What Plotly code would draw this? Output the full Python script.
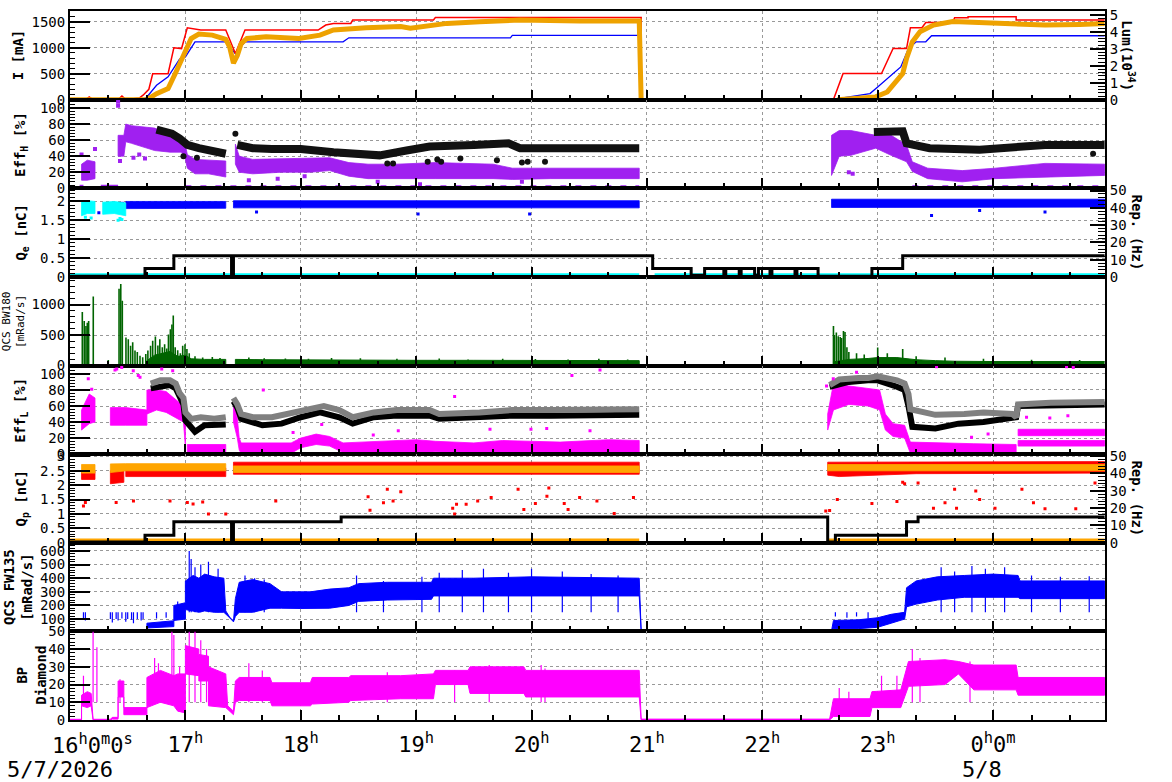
import plotly.graph_objects as go
from plotly.subplots import make_subplots

# ---------------- data (time "HH:MM") ----------------
# Panel 1 : ring currents [mA] and luminosity [1e34]
RED_I = [("16:00",0),("16:08",0),("16:10",50),("16:12",0),("16:25",0),("16:27",70),("16:29",0),
         ("16:36",30),("16:38",85),("16:41",200),("16:43",500),("16:51",500),("16:54",1000),("16:58",985),
         ("17:01",1387),("17:06",1360),("17:08",1342),("17:21",1342),("17:26",890),("17:31",1342),
         ("18:09",1342),("18:13",1439),("18:17",1470),("18:26",1470),("18:27",1536),("19:09",1536),
         ("19:10",1586),("20:57",1586),("20:57",0),("22:37",0),("22:42",503),("23:02",503),("23:08",986),
         ("23:15",986),("23:17",1387),("23:23",1387),("23:25",1489),("23:39",1489),("23:40",1580),
         ("23:47",1580),("23:47",1600),("00:12",1600),("00:12",1536),("00:58",1536)]
BLUE_I = [("16:00",0),("16:08",0),("16:10",15),("16:12",0),("16:38",0),("16:40",52),("16:45",278),
          ("16:51",439),("16:57",781),("17:00",825),("17:05",1116),("17:21",1116),("17:26",887),
          ("17:31",1116),("18:22",1116),("18:25",1193),("19:49",1193),("19:50",1238),("20:57",1238),
          ("20:57",0),("22:36",0),("22:56",116),("23:00",245),("23:12",630),("23:16",983),("23:20",1116),
          ("23:25",1116),("23:28",1232),("00:58",1232)]
LUM = [("16:00",0),("16:40",0),("16:45",0.35),("16:51",0.65),("16:55",1.6),("17:01",3.0),("17:03",3.6),
       ("17:07",3.86),("17:14",3.8),("17:21",3.55),("17:23",3.1),("17:25",2.15),("17:27",2.6),("17:29",3.3),
       ("17:32",3.6),("17:42",3.7),("17:59",3.6),("18:10",3.8),("18:17",4.1),("18:34",4.23),("18:52",4.3),
       ("18:57",4.2),("19:16",4.49),("19:33",4.59),("19:54",4.69),("20:25",4.63),("20:56",4.63),("20:57",0),
       None,("22:39",0),("22:59",0.16),("23:05",0.45),("23:08",0.85),("23:13",1.53),("23:15",2.42),
       ("23:18",3.4),("23:22",4.0),("23:29",4.39),("23:39",4.6),("23:53",4.53),("00:10",4.43),
       ("00:27",4.39),("00:45",4.43),("00:58",4.49)]

# Panel 2 : Eff_H [%]
EFFH_BLACK = [("16:45",73),("16:49",70),("16:53",68),("16:57",62),("17:01",54),("17:07",50),("17:14",47),
              ("17:21",43),None,("17:27",54),("17:35",50),("17:45",49),("18:00",49),("18:17",45),
              ("18:34",41),("18:41",41),("18:55",47),("19:07",52),("19:30",54),("19:48",56),("19:54",50),
              ("20:25",50),("20:56",50),None,("22:58",70),("23:13",71),("23:15",56),("23:27",50),
              ("23:53",48),("00:20",52),("00:27",54),("00:58",54)]
EFFH_BLACK_OUT = [("16:59",40),("17:06",38),("17:26",68),("18:45",31),("18:48",31),("19:06",33),
                  ("19:11",36),("19:13",33),("19:23",37),("19:42",35),("19:55",32),("19:58",33),
                  ("20:07",33),("00:52",43)]
EFFH_PURPLE = [("16:06",10,30),("16:09",10,35),("16:13",12,33),None,
               ("16:25",40,66),("16:28",40,66),("16:29",58,80),("16:32",56,78),("16:44",47,75),
               ("16:52",45,67),("16:58",45,61),("17:00",36,54),("17:01",25,42),("17:05",18,36),
               ("17:12",18,35),("17:21",14,34),None,
               ("17:26",30,55),("17:28",20,40),("17:35",18,36),("17:50",20,37),("18:05",20,38),
               ("18:15",22,38),("18:25",15,32),("18:35",12,30),("18:50",12,30),("19:10",12,32),
               ("19:40",12,30),("19:50",11,25),("20:10",12,25),("20:30",12,25),("20:56",12,25),None,
               ("22:36",16,66),("22:40",40,72),("22:46",41,72),("22:59",50,66),("23:07",41,66),
               ("23:15",33,54),("23:18",21,33),("23:26",12,25),("23:44",8,22),("00:01",12,25),
               ("00:27",14,31),("00:58",16,30)]
EFFH_PURPLE_ZERO = [("16:05",1.8),("16:07",1.8),None,("16:16",1.8),("16:25",1.8)]
EFFH_PURPLE_DASH = [("17:00",1.8),("20:56",1.8),None,("23:18",1.8),("00:58",1.8)]
EFFH_PURPLE_OUT = [("16:06",42),("16:13",49),("16:25",108),("16:25",103),("16:26",34),("16:33",38),
                   ("16:36",42),("16:39",37),("17:33",10),("17:48",12),("18:02",15),("18:40",8),
                   ("19:02",5),("19:55",8),("22:45",20),("22:47",18)]

# Panel 3 : Q_e [nC] and repetition [Hz]
QE_CYAN = [("16:06",1.62,1.98),("16:09",1.68,2.02),("16:13",1.68,2.0),None,
           ("16:17",1.66,1.98),("16:23",1.68,2.0),("16:29",1.62,1.96)]
QE_BAND = [("16:29",1.81,2.0),("17:21",1.82,2.0),None,("17:25",1.83,2.02),("20:56",1.83,2.02),None,
           ("22:36",1.84,2.06),("00:58",1.85,2.06)]
QE_BAND_EARLY = [("16:07",1.80,1.95),("16:12",1.82,1.97),None,("16:18",1.82,1.95),("16:28",1.84,1.98)]
QE_OUT = [("16:15",1.7),("17:37",1.72),("19:01",1.67),("19:59",1.67),("23:28",1.63),("23:53",1.76),
          ("00:27",1.72)]
QE_CYAN_OUT = [("16:08",1.58),("16:11",1.56),("16:25",1.5),("16:26",1.55),("16:27",1.52)]
QE_CYAN_ZERO = [("16:00",0.045),("20:56",0.045),None,("21:04",0.045),("00:58",0.045)]
REP_E = [("16:00",0.4),("16:39",4.8),("16:54",12.2),("17:24",0),("17:25",12.2),("21:03",4.8),
         ("21:23",1),("21:30",4.8),("21:40",1),("21:41",4.8),("21:48",1),("21:49",4.8),("21:56",1),
         ("21:58",4.8),("22:04",1),("22:05",4.8),("22:17",1),("22:18",4.8),("22:29",0.4),("22:57",4.8),
         ("23:13",12.2),("00:58",12.2)]

# Panel 4 : QCS BW180 [mRad/s]
BW_SPIKES = [("16:06.4",880),("16:07.4",730),("16:08.3",650),("16:09",700),("16:09.7",730),
             ("16:12.1",1134),("16:19.9",90),("16:25.5",1260),("16:26.4",1340),("16:27.2",1065),
             ("16:29.1",460),("16:30.3",430),("16:31.5",325),("16:32.6",380),("16:33.8",245),
             ("16:35",220),("16:36.4",160),("16:37.8",135),("16:39.4",190),("16:40.5",245),
             ("16:41.9",324),("16:43",405),("16:44.4",475),("16:45.7",330),("16:46.7",432),
             ("16:48",300),("16:49.2",350),("16:50.3",280),("16:51.2",510),("16:52.2",594),
             ("16:53",675),("16:53.7",821),("16:54.7",300),("16:56",250),("16:57.4",200),
             ("16:58.6",324),("16:59.8",350),("17:00.8",270),("17:02",200),("17:05",150),
             ("17:09",130),("17:14",140),("17:18",125),("17:33",130),("17:41",120),("17:52",115),
             ("18:04",110),("18:16",125),("18:31",120),("18:50",110),("19:12",115),("19:27",100),
             ("19:45",110),("20:02",105),("20:19",100),("20:35",110),("20:50",100),
             ("22:37",648),("22:37.5",500),("22:38.5",540),("22:39.5",480),("22:40.5",470),
             ("22:41.2",450),("22:42.2",567),("22:43",550),("22:44",300),("22:45",220),("22:49",200),
             ("22:53",180),("23:00",297),("23:05",200),("23:13",270),("23:20",150),("23:35",130),
             ("23:55",110),("00:20",95),("00:45",90)]
BW_BASE = [("16:00",0),("16:40",0),("16:40",80),("16:44",170),("16:48",200),("16:52",230),("16:56",150),
           ("17:00",170),("17:03",110),("17:10",100),("17:21",100),("17:21",0),("17:26",0),("17:26",100),
           ("17:40",95),("18:00",90),("18:30",88),("19:00",85),("19:30",85),("20:00",85),("20:30",80),
           ("20:56",80),("20:56",0),("22:37",0),("22:37",60),("22:45",100),("22:55",115),("23:00",130),
           ("23:10",130),("23:20",95),("23:30",80),("23:40",70),("00:00",65),("00:30",65),("00:58",65)]

# Panel 5 : Eff_L [%]
EFFL_GRAY = [("16:42",88),("16:47",92),("16:52",92),("16:55",88),("16:57",76),("16:59",70),("17:00",52),
             ("17:03",44),("17:08",46),("17:15",44),("17:21",46),None,("17:25",70),("17:27",62),
             ("17:29",50),("17:35",46),("17:45",46),("18:00",54),("18:08",58),("18:12",60),("18:20",55),
             ("18:27",46),("18:38",52),("18:50",55),("19:07",55),("19:12",50),("19:33",52),("19:50",55),
             ("20:10",55),("20:30",56),("20:56",56),None,("22:35",86),("22:40",93),("22:50",95),
             ("22:55",95),("23:00",97),("23:10",92),("23:14",88),("23:16",75),("23:17",56),("23:30",49),
             ("23:45",50),("23:55",52),("00:10",50),("00:12",46),("00:13",62),("00:30",64),("00:58",65)]
EFFL_BLACK = [("16:42",82),("16:52",86),("16:55",82),("16:57",72),("16:59",62),("17:00",42),("17:03",34),
              ("17:05",28),("17:10",36),("17:21",37),None,("17:25",66),("17:27",58),("17:29",44),
              ("17:40",36),("17:50",38),("18:00",46),("18:10",52),("18:20",46),("18:27",38),("18:38",46),
              ("18:50",48),("19:07",48),("19:12",44),("19:33",47),("19:50",48),("20:10",48),("20:30",49),
              ("20:56",49),None,("22:35",84),("22:45",90),("22:55",92),("23:00",92),("23:10",84),
              ("23:14",80),("23:16",60),("23:18",34),("23:30",32),("23:42",38),("23:55",40),("00:10",44),
              ("00:12",46),("00:13",60),("00:30",61),("00:58",62)]
EFFL_MAGENTA = [("16:06",30,55),("16:10",38,75),("16:13",40,70),None,("16:21",36,58),("16:29",36,58),
                ("16:40",36,55),None,("16:40",50,80),("16:45",55,80),("16:50",52,78),("16:55",45,68),
                ("16:59",40,60),("17:00",10,40),None,("17:01",0,12),("17:21",0,12),None,
                ("17:25",40,65),("17:27",20,45),("17:28",5,20),("17:29",1,14),("17:55",1,14),("18:00",8,20),
                ("18:08",12,25),("18:15",10,22),("18:22",2,14),("18:40",1,16),("19:00",1,18),
                ("19:10",3,16),("19:30",1,14),("19:45",2,17),("20:15",1,15),("20:40",2,18),("20:56",2,17),
                None,("22:34",30,50),("22:37",55,88),("22:45",62,85),("22:55",60,82),("23:01",55,80),
                ("23:04",30,50),("23:08",22,38),("23:14",20,36),("23:17",1,15),("23:50",2,13),
                ("00:12",2,12),None,("00:13",23,31),("00:58",23,31),None,("00:13",10,17),("00:58",10,17)]
EFFL_MAGENTA_OUT = [("16:09.5",94),("16:11.3",81),("16:23.4",105),("16:24.3",106),("16:26.9",108),
                    ("16:32.9",104),("16:35.5",98),("16:36.4",96),("16:47.7",106),("16:53.4",104),
                    ("17:40.5",80),("17:56",27),("18:10.9",37),("18:37.7",24),("18:50.7",29),
                    ("19:20",72),("19:38.4",31),("19:59.7",31),("20:07.9",32),("20:21",98),
                    ("20:30.4",29),("20:35.6",105),("22:33.4",85),("22:36.9",94),("22:49",102),
                    ("23:30.6",109),("23:48.8",21),("23:57.4",25),("00:17.4",46),("00:29.5",45),
                    ("00:38.2",109),("00:38.9",48),("00:41.7",108)]

# Panel 6 : Q_p [nC] and repetition [Hz]
QP_RED = [("16:06",2.2,2.5),("16:13",2.2,2.5),None,("16:21",2.05,2.5),("16:28",2.1,2.5),None,
          ("16:29",2.3,2.6),("17:21",2.3,2.6),None,("17:25",2.38,2.8),("20:56",2.38,2.8),None,
          ("22:34",2.35,2.8),("22:40",2.3,2.8),("23:20",2.4,2.82),("00:58",2.42,2.82)]
QP_ORANGE = [("16:06",2.42,2.72),("16:13",2.42,2.72),None,("16:21",2.44,2.74),("16:29",2.5,2.75),
             ("17:21",2.5,2.75),None,("17:25",2.44,2.67),("20:56",2.44,2.67),None,
             ("22:34",2.5,2.72),("00:58",2.5,2.72)]
QP_RED_OUT = [("16:07",1.28),("16:08",1.4),("16:24",1.4),("16:33",1.45),("16:52",1.45),("17:01",1.4),
              ("17:04",1.35),("17:09",1.42),("17:12",1.0),("17:21",1.0),("17:47",1.45),("18:35",1.6),
              ("18:36",1.13),("18:48",1.45),("18:52",1.77),("18:43",1.39),("18:45",1.86),("19:19",1.2),
              ("19:20",1.0),("19:21",1.34),("19:26",1.34),("19:32",1.45),("19:39",1.57),("19:53",1.86),
              ("19:56",1.16),("20:02",1.36),("20:08",1.62),("20:09",1.9),("20:17",1.36),("20:19",1.16),
              ("20:25",1.57),("20:34",1.45),("20:43",1.02),("20:53",1.57),("22:33",1.1),("22:35",1.12),
              ("22:39",1.5),("22:57",1.36),("23:10",1.43),("23:13",2.1),("23:14",2.05),("23:21",2.08),
              ("23:29",1.2),("23:35",1.39),("23:40",1.86),("23:41",1.2),("23:51",1.8),("23:53",1.5),
              ("00:01",1.2),("00:15",1.86),("00:21",1.39),("00:27",1.18),("00:43",1.18),("00:53",2.08)]
QP_ORANGE_ZERO = [("16:00",0.08),("20:56",0.08),None,("22:34",0.08),("00:58",0.08)]
REP_P = [("16:00",0.4),("16:39",4.3),("16:54",12.1),("17:24",0),("17:25",12.1),("18:21",14.8),
         ("22:34",0.4),("22:38",4.3),("23:15",12.1),("23:21",14.8),("00:58",14.8)]

# Panel 7 : QCS FW135 [mRad/s]  (time, low edge, high edge)
FW_BAND = [("16:00",12,15),("16:40",12,15),("16:40",35,70),("16:47",40,80),("16:54",45,88),("16:54",90,200),
           ("17:00",100,220),("17:00",170,380),("17:04",160,420),("17:07",150,400),("17:10",160,430),
           ("17:15",150,410),("17:20",150,400),("17:21",140,160),("17:23",110,115),("17:25",80,85),
           ("17:26",120,250),("17:28",150,370),("17:35",150,390),("17:44",180,360),("17:50",180,300),
           ("18:00",178,300),("18:05",175,300),("18:15",180,320),("18:25",200,330),("18:30",230,360),
           ("18:45",240,370),("19:00",245,370),("19:08",245,370),("19:09",270,400),("19:30",275,400),
           ("20:00",275,410),("20:30",270,405),("20:56",270,400),("20:57",12,15),("22:36",12,15),
           ("22:37",30,90),("22:50",30,95),("23:00",40,110),("23:07",70,135),("23:14",100,150),
           ("23:15",190,330),("23:20",210,380),("23:31",240,410),("23:45",260,420),("00:00",260,430),
           ("00:13",260,420),("00:14",250,380),("00:58",250,380)]
FW_SPIKES = [("16:07",95),("16:08",90),("16:21",100),("16:22",75),("16:24",100),("16:25",90),("16:27",105),
             ("16:29",80),("16:30",100),("16:32",95),("16:33",70),("16:35",100),("16:37",90),("16:38",100),
             ("16:45",105),("16:50",110),("16:56",230),("16:58",210),("17:02",600),("17:03",540),
             ("17:05",480),("17:08",500),("17:12",520),("17:17",470),("17:31",420),("17:36",400),
             ("17:41",390),("18:29",420),("18:43",380),("19:03",410),("19:12",440),("19:24",460),
             ("19:35",470),("19:48",440),("20:00",470),("20:16",450),("20:31",430),("20:45",420),
             ("22:38",120),("22:44",110),("22:49",120),("22:55",105),("23:33",480),("23:40",450),
             ("23:49",490),("23:56",470),("00:06",480),("00:20",420),("00:35",410),("00:50",415)]

# Panel 8 : BP Diamond
BP_BAND = [("16:00",0,0.4),("16:06",0,0.4),("16:06",8,14),("16:09",7,16),("16:11",8,15),("16:12",0,0.4),
           ("16:21",0,0.4),("16:22",0.5,1.5),("16:25",0.5,1.5),("16:25",13,22),("16:28",13,22),
           ("16:28",3,7),("16:40",3,7),("16:40",7,24),("16:47",10,28),("16:54",8,25),("16:56",5,26),
           ("17:00",4,26),("17:00",26,42),("17:07",25,40),("17:07",22,37),("17:12",22,36),("17:12",8,30),
           ("17:21",7,26),("17:22",6,8),("17:25",3,5),("17:26",10,22),("17:28",11,24),("17:44",11,24),
           ("17:45",8,21),("18:05",8,21),("18:06",9,24),("18:25",10,24),("18:26",11,25),("18:52",12,25),
           ("19:09",12,26),("19:10",20,28),("19:27",20,28),("19:28",15,30),("19:56",15,30),("19:57",13,28),
           ("20:56",13,28),("20:57",0,0.5),("22:35",0,0.5),("22:37",2,12),("22:56",2,12),("22:57",7,16),
           ("23:12",7,17),("23:16",19,33),("23:35",20,34),("23:42",26,33),("23:50",17,31),("00:12",17,31),
           ("00:13",14,24),("00:58",14,24)]
BP_SPIKES = [("16:07",25),("16:12",50),("16:14",41),("16:26",23),("16:44",35),("16:46",32),("16:53",50),
             ("16:54",48),("16:57",30),("17:02",50),("17:05",50),("17:08",45),("17:11",40),("17:33",32),
             ("17:40",28),("18:45",27),("19:20",28),("19:38",31),("20:05",31),("20:07",29),("22:40",18),
             ("22:45",16),("23:02",25),("23:10",25),("23:18",40),("23:22",35),("23:48",33)]

HOUR_TICKS = [16, 17, 18, 19, 20, 21, 22, 23, 24]
HOUR_TEXT = ["", "17<sup>h</sup>", "18<sup>h</sup>", "19<sup>h</sup>", "20<sup>h</sup>", "21<sup>h</sup>",
             "22<sup>h</sup>", "23<sup>h</sup>", "0<sup>h</sup>0<sup>m</sup>"]

# ---------------- helpers ----------------
def hm(s):
    h, m = s.split(":")
    h = int(h)
    if h < 12:
        h += 24
    return h + float(m) / 60.0

FONT = "DejaVu Sans Mono"
W, H = 1172, 782
ML, MR, MT, MB = 70, 67, 9, 62
PW, PH = W - ML - MR, H - MT - MB
X0, X1 = 16.0, 24.97

specs = [[{"secondary_y": True}], [{}], [{"secondary_y": True}], [{}], [{}],
         [{"secondary_y": True}], [{}], [{}]]
fig = make_subplots(rows=8, cols=1, shared_xaxes=True, vertical_spacing=0, specs=specs)


def add(tr, row, sec=False):
    fig.add_trace(tr, row=row, col=1, secondary_y=sec)


def line(rows, color, width, row, sec=False, shape="linear", dash=None):
    xs = [hm(r[0]) if r else None for r in rows]
    ys = [r[1] if r else None for r in rows]
    add(go.Scatter(x=xs, y=ys, mode="lines", line=dict(color=color, width=width, shape=shape, dash=dash),
                   hoverinfo="skip"), row, sec)


def band(rows, color, row, sec=False, lw=0.8):
    xs, ys, cur = [], [], []
    segs = []
    for r in rows:
        if r is None:
            if cur:
                segs.append(cur)
            cur = []
        else:
            cur.append(r)
    if cur:
        segs.append(cur)
    for seg in segs:
        t = [hm(r[0]) for r in seg]
        lo = [r[1] for r in seg]
        hi = [r[2] for r in seg]
        xs += t + t[::-1] + [t[0], None]
        ys += hi + lo[::-1] + [hi[0], None]
    add(go.Scatter(x=xs, y=ys, mode="lines", fill="toself", fillcolor=color,
                   line=dict(color=color, width=lw), hoverinfo="skip"), row, sec)


def spikes(rows, base, color, width, row):
    xs, ys = [], []
    for t, v in rows:
        x = hm(t)
        xs += [x, x, None]
        ys += [base, v, None]
    add(go.Scatter(x=xs, y=ys, mode="lines", line=dict(color=color, width=width), hoverinfo="skip"), row)


def dots(rows, color, size, row, symbol="square"):
    add(go.Scatter(x=[hm(r[0]) for r in rows], y=[r[1] for r in rows], mode="markers",
                   marker=dict(color=color, size=size, symbol=symbol, line=dict(width=0)),
                   hoverinfo="skip"), row)


ORANGE = "#EEA200"
# Panel 1
line(BLUE_I, "#0000FF", 1.3, 1)
line(RED_I, "#FF0000", 1.5, 1)
line(LUM, ORANGE, 5, 1, sec=True)
# Panel 2
band(EFFH_PURPLE, "#A020F0", 2)
line(EFFH_PURPLE_ZERO, "#A020F0", 4, 2)
line(EFFH_PURPLE_DASH, "#A020F0", 3, 2, dash="6px,9px")
dots(EFFH_PURPLE_OUT, "#A020F0", 4, 2)
line(EFFH_BLACK, "#111111", 8, 2)
dots(EFFH_BLACK_OUT, "#111111", 6, 2, symbol="circle")
# Panel 3
band(QE_BAND, "#0000FF", 3)
band(QE_BAND_EARLY, "#0000FF", 3)
band(QE_CYAN, "#00FFFF", 3)
dots(QE_OUT, "#0000FF", 3, 3)
dots(QE_CYAN_OUT, "#00FFFF", 3, 3)
line(REP_E, "#000000", 3, 3, sec=True, shape="hv")
line(QE_CYAN_ZERO, "#00FFFF", 4, 3)
# Panel 4
add(go.Scatter(x=[hm(r[0]) for r in BW_BASE], y=[r[1] for r in BW_BASE], mode="lines", fill="tozeroy",
               fillcolor="#006400", line=dict(color="#006400", width=1), hoverinfo="skip"), 4)
spikes(BW_SPIKES, 0, "#006400", 1.6, 4)
# Panel 5
band(EFFL_MAGENTA, "#FF00FF", 5)
line(EFFL_BLACK, "#000000", 6, 5)
line(EFFL_GRAY, "#808080", 6, 5)
dots(EFFL_MAGENTA_OUT, "#FF00FF", 3, 5)
# Panel 6
band(QP_RED, "#FF0000", 6)
band(QP_ORANGE, "#FFA500", 6)
dots(QP_RED_OUT, "#FF0000", 3, 6)
line(QP_ORANGE_ZERO, "#FFA500", 4, 6)
line(REP_P, "#000000", 3, 6, sec=True, shape="hv")
# Panel 7
band(FW_BAND, "#0000FF", 7, lw=1)
spikes(FW_SPIKES, 150, "#0000FF", 1.2, 7)
# Panel 8
band(BP_BAND, "#FF00FF", 8, lw=1)
spikes(BP_SPIKES, 10, "#FF00FF", 1.2, 8)

# ---------------- axes ----------------
GRID = dict(showgrid=True, gridcolor="#999999", griddash="3px,3px", gridwidth=1)
TF = dict(family=FONT, size=14, color="black")

for r in range(1, 9):
    fig.update_xaxes(row=r, col=1, domain=[0, 1], range=[X0, X1], tickmode="array", tickvals=HOUR_TICKS,
                     ticktext=HOUR_TEXT, showticklabels=(r == 8), ticks="inside", ticklen=10, tickwidth=2,
                     tickcolor="black", showline=True, linecolor="black", linewidth=2, mirror=True,
                     zeroline=False, tickfont=dict(family=FONT, size=22, color="black"),
                     ticklabelstandoff=4,
                     minor=dict(tickmode="linear", tick0=16, dtick=1 / 3, ticks="inside", ticklen=5,
                                tickwidth=1.5, tickcolor="black", showgrid=False),
                     **GRID)

LEFT = {1: ([0, 1710], 500, 100), 2: ([0, 110.5], 20, 4), 3: ([0, 2.35], 0.5, 0.1),
        4: ([0, 1455], 500, 100), 5: ([0, 110.5], 20, 4), 6: ([0, 3.08], 0.5, 0.1),
        7: ([10, 660], 100, 20), 8: ([0, 50], 10, 2)}
RIGHT = {1: ([0, 5.22], 1, 0.2), 3: ([0, 51.3], 10, 2), 6: ([0, 51], 10, 2)}

for r, (rng, dt, mdt) in LEFT.items():
    kw = dict(secondary_y=False) if r in RIGHT else {}
    fig.update_yaxes(row=r, col=1, range=rng, tickmode="linear", tick0=0, dtick=dt, ticks="inside",
                     ticklen=20, tickwidth=2, tickcolor="black", showline=True, linecolor="black",
                     linewidth=2, mirror=True, zeroline=False, tickfont=TF, automargin=False,
                     minor=dict(tickmode="linear", tick0=0, dtick=mdt, ticks="inside", ticklen=5,
                                tickwidth=1, tickcolor="black", showgrid=False),
                     **GRID, **kw)
for r, (rng, dt, mdt) in RIGHT.items():
    fig.update_yaxes(row=r, col=1, secondary_y=True, range=rng, tickmode="linear", tick0=0, dtick=dt,
                     ticks="inside", ticklen=15, tickwidth=2, tickcolor="black", showline=True,
                     linecolor="black", linewidth=2, zeroline=False, showgrid=False, tickfont=TF,
                     automargin=False,
                     minor=dict(tickmode="linear", tick0=0, dtick=mdt, ticks="inside", ticklen=7,
                                tickwidth=1, tickcolor="black", showgrid=False))


# ---------------- titles / labels ----------------
def pxx(x):
    return (x - ML) / PW


def pyy(y):
    return (H - MB - y) / PH


def rowc(r):
    return 1 - (r - 0.5) / 8


ann = []
LEFT_T = [(1, "I [mA]", 18, 14, "bold"), (2, "Eff<sub>H</sub> [%]", 21, 14, "bold"),
          (3, "Q<sub>e</sub> [nC]", 22, 14, "bold"), (4, "QCS BW180<br>[mRad/s]", 13, 11, "normal"),
          (5, "Eff<sub>L</sub> [%]", 21, 14, "bold"), (6, "Q<sub>p</sub> [nC]", 22, 14, "bold"),
          (7, "QCS FW135<br>[mRad/s]", 18, 14, "bold"), (8, "BP<br>Diamond", 31, 14, "bold")]
for r, txt, x, sz, wt in LEFT_T:
    ann.append(dict(text=txt, x=pxx(x), y=rowc(r), xref="paper", yref="paper", xanchor="center",
                    yanchor="middle", textangle=-90, showarrow=False,
                    font=dict(family=FONT, size=sz, color="black", weight=wt)))
RIGHT_T = [(1, "Lum(10<sup>34</sup>)", 1128), (3, "Rep. (Hz)", 1137), (6, "Rep. (Hz)", 1137)]
for r, txt, x in RIGHT_T:
    ann.append(dict(text=txt, x=pxx(x), y=rowc(r), xref="paper", yref="paper", xanchor="center",
                    yanchor="middle", textangle=90, showarrow=False,
                    font=dict(family=FONT, size=14, color="black", weight="bold")))
ann.append(dict(text="16<sup>h</sup>0<sup>m</sup>0<sup>s</sup>", x=pxx(92), y=pyy(744), xref="paper",
                yref="paper", xanchor="center", yanchor="middle", showarrow=False,
                font=dict(family=FONT, size=22, color="black")))
ann.append(dict(text="5/7/2026", x=pxx(5), y=pyy(770), xref="paper", yref="paper", xanchor="left",
                yanchor="middle", showarrow=False, font=dict(family=FONT, size=22, color="black")))
ann.append(dict(text="5/8", x=pxx(982), y=pyy(770), xref="paper", yref="paper", xanchor="center",
                yanchor="middle", showarrow=False, font=dict(family=FONT, size=22, color="black")))

fig.update_layout(width=W, height=H, autosize=False, showlegend=False,
                  margin=dict(l=ML, r=MR, t=MT, b=MB, pad=0),
                  paper_bgcolor="white", plot_bgcolor="white", annotations=ann,
                  font=dict(family=FONT, color="black"))

fig.write_html("out.html", config={"displayModeBar": False})
